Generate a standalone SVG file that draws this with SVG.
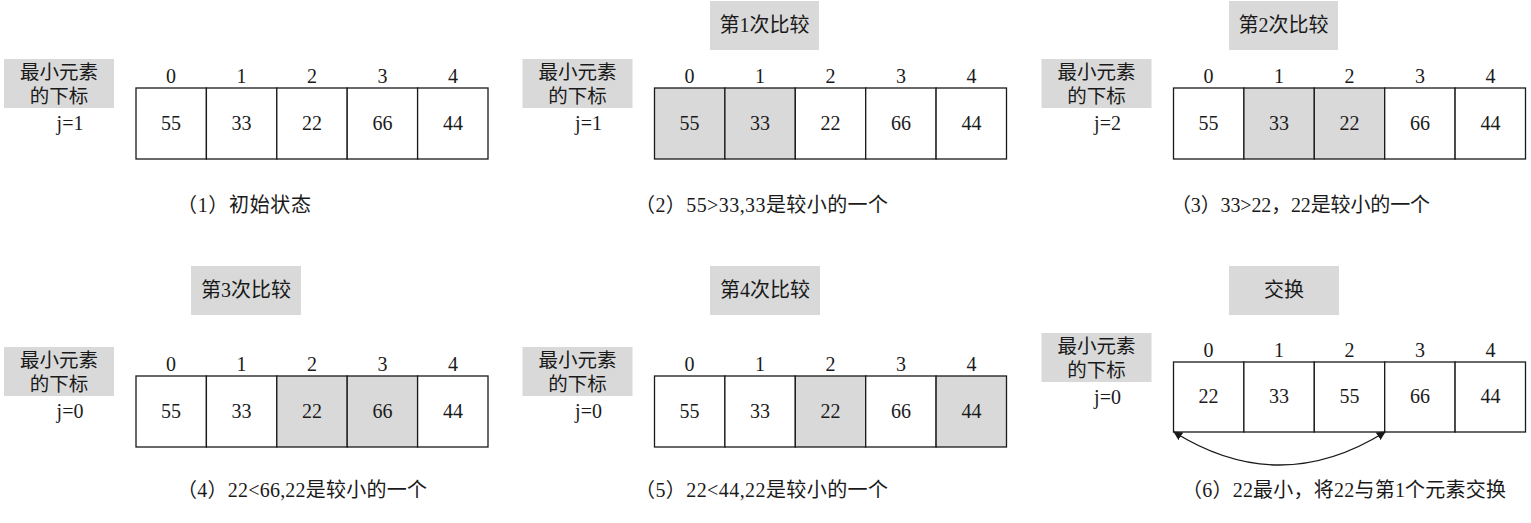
<svg xmlns="http://www.w3.org/2000/svg" width="1531" height="523" viewBox="0 0 1531 523">
<style>
text{font-family:"Liberation Serif","Noto Sans CJK SC",serif;font-size:20px;fill:#1a1a1a}
.c{text-anchor:middle}
.box{fill:#d9d9d9}
.cell{fill:#fff;stroke:#1a1a1a;stroke-width:1.3}
.hl{fill:#d9d9d9;stroke:#1a1a1a;stroke-width:1.3}
.lb{font-size:19.5px}
</style>
<defs>
<marker id="ah" viewBox="0 0 10 10" refX="9" refY="5" markerWidth="9" markerHeight="9" markerUnits="userSpaceOnUse" orient="auto-start-reverse">
<path d="M0,0 L10,5 L0,10 z" fill="#1a1a1a"/>
</marker>
</defs>
<rect width="1531" height="523" fill="#fff"/>

<!-- titles -->
<g id="title2"><rect class="box" x="710" y="1" width="109" height="49"/><text class="c" x="764.5" y="32">第1次比较</text></g>
<g id="title3"><rect class="box" x="1229" y="1" width="109" height="49"/><text class="c" x="1283.5" y="32">第2次比较</text></g>
<g id="title4"><rect class="box" x="191" y="266" width="110" height="49"/><text class="c" x="246" y="297">第3次比较</text></g>
<g id="title5"><rect class="box" x="710" y="266" width="110" height="49"/><text class="c" x="765" y="297">第4次比较</text></g>
<g id="title6"><rect class="box" x="1229" y="266" width="110" height="49"/><text class="c" x="1284" y="297">交换</text></g>

<!-- panel 1 -->
<g id="panel1">
<rect class="box" x="4" y="59" width="110" height="49"/>
<text class="c lb" x="59" y="79">最小元素</text><text class="c lb" x="59" y="103">的下标</text>
<text class="c" x="70" y="130">j=1</text>
<rect class="cell" x="136" y="88" width="70.4" height="71"/><rect class="cell" x="206.4" y="88" width="70.4" height="71"/><rect class="cell" x="276.8" y="88" width="70.4" height="71"/><rect class="cell" x="347.2" y="88" width="70.4" height="71"/><rect class="cell" x="417.6" y="88" width="70.4" height="71"/>
<text class="c" x="171" y="83">0</text><text class="c" x="241.5" y="83">1</text><text class="c" x="312" y="83">2</text><text class="c" x="382.5" y="83">3</text><text class="c" x="453" y="83">4</text>
<text class="c" x="171" y="130">55</text><text class="c" x="241.5" y="130">33</text><text class="c" x="312" y="130">22</text><text class="c" x="382.5" y="130">66</text><text class="c" x="453" y="130">44</text>
</g>

<!-- panel 2 -->
<g id="panel2" transform="translate(518.5,0)">
<rect class="box" x="4" y="59" width="110" height="49"/>
<text class="c lb" x="59" y="79">最小元素</text><text class="c lb" x="59" y="103">的下标</text>
<text class="c" x="70" y="130">j=1</text>
<rect class="hl" x="136" y="88" width="70.4" height="71"/><rect class="hl" x="206.4" y="88" width="70.4" height="71"/><rect class="cell" x="276.8" y="88" width="70.4" height="71"/><rect class="cell" x="347.2" y="88" width="70.4" height="71"/><rect class="cell" x="417.6" y="88" width="70.4" height="71"/>
<text class="c" x="171" y="83">0</text><text class="c" x="241.5" y="83">1</text><text class="c" x="312" y="83">2</text><text class="c" x="382.5" y="83">3</text><text class="c" x="453" y="83">4</text>
<text class="c" x="171" y="130">55</text><text class="c" x="241.5" y="130">33</text><text class="c" x="312" y="130">22</text><text class="c" x="382.5" y="130">66</text><text class="c" x="453" y="130">44</text>
</g>

<!-- panel 3 -->
<g id="panel3" transform="translate(1037.5,0)">
<rect class="box" x="4" y="59" width="110" height="49"/>
<text class="c lb" x="59" y="79">最小元素</text><text class="c lb" x="59" y="103">的下标</text>
<text class="c" x="70" y="130">j=2</text>
<rect class="cell" x="136" y="88" width="70.4" height="71"/><rect class="hl" x="206.4" y="88" width="70.4" height="71"/><rect class="hl" x="276.8" y="88" width="70.4" height="71"/><rect class="cell" x="347.2" y="88" width="70.4" height="71"/><rect class="cell" x="417.6" y="88" width="70.4" height="71"/>
<text class="c" x="171" y="83">0</text><text class="c" x="241.5" y="83">1</text><text class="c" x="312" y="83">2</text><text class="c" x="382.5" y="83">3</text><text class="c" x="453" y="83">4</text>
<text class="c" x="171" y="130">55</text><text class="c" x="241.5" y="130">33</text><text class="c" x="312" y="130">22</text><text class="c" x="382.5" y="130">66</text><text class="c" x="453" y="130">44</text>
</g>

<!-- panel 4 -->
<g id="panel4" transform="translate(0,288)">
<rect class="box" x="4" y="59" width="110" height="49"/>
<text class="c lb" x="59" y="79">最小元素</text><text class="c lb" x="59" y="103">的下标</text>
<text class="c" x="70" y="130">j=0</text>
<rect class="cell" x="136" y="88" width="70.4" height="71"/><rect class="cell" x="206.4" y="88" width="70.4" height="71"/><rect class="hl" x="276.8" y="88" width="70.4" height="71"/><rect class="hl" x="347.2" y="88" width="70.4" height="71"/><rect class="cell" x="417.6" y="88" width="70.4" height="71"/>
<text class="c" x="171" y="83">0</text><text class="c" x="241.5" y="83">1</text><text class="c" x="312" y="83">2</text><text class="c" x="382.5" y="83">3</text><text class="c" x="453" y="83">4</text>
<text class="c" x="171" y="130">55</text><text class="c" x="241.5" y="130">33</text><text class="c" x="312" y="130">22</text><text class="c" x="382.5" y="130">66</text><text class="c" x="453" y="130">44</text>
</g>

<!-- panel 5 -->
<g id="panel5" transform="translate(518.5,288)">
<rect class="box" x="4" y="59" width="110" height="49"/>
<text class="c lb" x="59" y="79">最小元素</text><text class="c lb" x="59" y="103">的下标</text>
<text class="c" x="70" y="130">j=0</text>
<rect class="cell" x="136" y="88" width="70.4" height="71"/><rect class="cell" x="206.4" y="88" width="70.4" height="71"/><rect class="hl" x="276.8" y="88" width="70.4" height="71"/><rect class="cell" x="347.2" y="88" width="70.4" height="71"/><rect class="hl" x="417.6" y="88" width="70.4" height="71"/>
<text class="c" x="171" y="83">0</text><text class="c" x="241.5" y="83">1</text><text class="c" x="312" y="83">2</text><text class="c" x="382.5" y="83">3</text><text class="c" x="453" y="83">4</text>
<text class="c" x="171" y="130">55</text><text class="c" x="241.5" y="130">33</text><text class="c" x="312" y="130">22</text><text class="c" x="382.5" y="130">66</text><text class="c" x="453" y="130">44</text>
</g>

<!-- panel 6 -->
<g id="panel6" transform="translate(1037.5,274)">
<rect class="box" x="4" y="59" width="110" height="49"/>
<text class="c lb" x="59" y="79">最小元素</text><text class="c lb" x="59" y="103">的下标</text>
<text class="c" x="70" y="130">j=0</text>
<rect class="cell" x="136" y="88" width="70.4" height="70"/><rect class="cell" x="206.4" y="88" width="70.4" height="70"/><rect class="cell" x="276.8" y="88" width="70.4" height="70"/><rect class="cell" x="347.2" y="88" width="70.4" height="70"/><rect class="cell" x="417.6" y="88" width="70.4" height="70"/>
<text class="c" x="171" y="83">0</text><text class="c" x="241.5" y="83">1</text><text class="c" x="312" y="83">2</text><text class="c" x="382.5" y="83">3</text><text class="c" x="453" y="83">4</text>
<text class="c" x="171" y="129">22</text><text class="c" x="241.5" y="129">33</text><text class="c" x="312" y="129">55</text><text class="c" x="382.5" y="129">66</text><text class="c" x="453" y="129">44</text>
</g>

<!-- connectors -->
<g id="connectors">
<path d="M1174,432 Q1279.5,498 1385,432" fill="none" stroke="#1a1a1a" stroke-width="1.3" marker-start="url(#ah)" marker-end="url(#ah)"/>
</g>

<!-- captions -->
<g id="captions">
<text x="177" y="212" textLength="134" lengthAdjust="spacing">（1）初始状态</text>
<text x="635" y="212" textLength="253" lengthAdjust="spacing">（2）55&gt;33,33是较小的一个</text>
<text x="1171" y="212" textLength="259" lengthAdjust="spacing">（3）33&gt;22，22是较小的一个</text>
<text x="177" y="497" textLength="250" lengthAdjust="spacing">（4）22&lt;66,22是较小的一个</text>
<text x="635" y="497" textLength="253" lengthAdjust="spacing">（5）22&lt;44,22是较小的一个</text>
<text x="1182" y="497" textLength="324" lengthAdjust="spacing">（6）22最小，将22与第1个元素交换</text>
</g>
</svg>
